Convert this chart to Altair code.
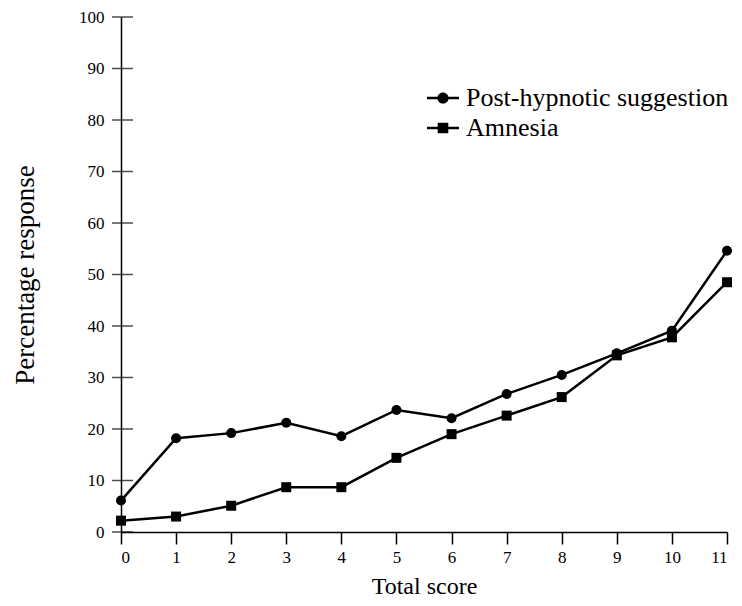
import altair as alt
import pandas as pd

# ---- data ----
scores = list(range(12))
post_hypnotic = [6.1, 18.2, 19.2, 21.2, 18.6, 23.7, 22.1, 26.8, 30.5, 34.7, 39.1, 54.6]
amnesia = [2.2, 3.0, 5.1, 8.7, 8.7, 14.4, 19.0, 22.6, 26.2, 34.3, 37.8, 48.5]
series_names = ["Post-hypnotic suggestion", "Amnesia"]
y_ticks = list(range(0, 101, 10))
x_ticks = list(range(0, 12))

df = pd.DataFrame({
    "score": scores + scores,
    "pct": post_hypnotic + amnesia,
    "series": [series_names[0]] * len(scores) + [series_names[1]] * len(scores),
})
ticks_df = pd.DataFrame({"pct": y_ticks})

FONT = "Liberation Serif"
W, H = 606, 515

x_scale = alt.Scale(domain=[0, 11], nice=False)
y_scale = alt.Scale(domain=[0, 100], nice=False)

x_axis = alt.Axis(
    values=x_ticks, title="Total score", grid=False,
    tickSize=12, tickWidth=1.5, tickColor="black",
    domainColor="black", domainWidth=1.5,
    labelFont=FONT, labelFontSize=17, labelColor="black", labelPadding=5,
    titleFont=FONT, titleFontSize=24, titleFontWeight="normal", titleColor="black",
    titleY=61, titleBaseline="alphabetic",
)
y_axis = alt.Axis(
    values=y_ticks, title="Percentage response", grid=False,
    ticks=False, tickSize=0,
    domainColor="black", domainWidth=1.5,
    labelFont=FONT, labelFontSize=17, labelColor="black", labelPadding=17,
    titleFont=FONT, titleFontSize=27, titleFontWeight="normal", titleColor="black",
    titleX=-96, titleY=H / 2, titleAngle=270, titleAlign="center", titleBaseline="middle",
)

x_enc = alt.X("score:Q", scale=x_scale, axis=x_axis)
y_enc = alt.Y("pct:Q", scale=y_scale, axis=y_axis)

lines = alt.Chart(df).mark_line(color="black", strokeWidth=2.5).encode(
    x=x_enc, y=y_enc, detail="series:N"
)

points = alt.Chart(df).mark_point(filled=True, color="black", opacity=1, size=100).encode(
    x=x_enc, y=y_enc,
    shape=alt.Shape("series:N", scale=alt.Scale(domain=series_names, range=["circle", "square"]), legend=None),
)

bar_parts = "M-1,-0.08L-0.3,-0.08L-0.3,0.08L-1,0.08Z M0.3,-0.08L1,-0.08L1,0.08L0.3,0.08Z "
path_circle = bar_parts + "M0.35,0A0.35,0.35,0,1,1,-0.35,0A0.35,0.35,0,1,1,0.35,0Z"
path_square = bar_parts + "M-0.33,-0.33L0.33,-0.33L0.33,0.33L-0.33,0.33Z"

legend_layer = alt.Chart(df).mark_point(filled=True, color="black", opacity=0).encode(
    x=x_enc, y=y_enc,
    shape=alt.Shape(
        "series:N",
        scale=alt.Scale(domain=series_names, range=[path_circle, path_square]),
        legend=alt.Legend(
            title=None, orient="none", legendX=305, legendY=64,
            symbolSize=1024, symbolOpacity=1, symbolFillColor="black",
            labelFont=FONT, labelFontSize=26, labelColor="black",
            labelOffset=6, rowPadding=0, padding=0, labelLimit=0,
        ),
    ),
)

tick_layer = alt.Chart(ticks_df).mark_tick(
    color="black", thickness=1.5, size=21, orient="horizontal"
).encode(y=y_enc, x=alt.value(1.5))

chart = (
    alt.layer(tick_layer, lines, points, legend_layer)
    .resolve_scale(shape="independent")
    .properties(
        width=W, height=H,
        autosize=alt.AutoSizeParams(type="none"),
        padding={"left": 113, "top": 9, "right": 7, "bottom": 66},
        background="white",
    )
    .configure_view(stroke=None)
)

chart.save("out.html", embed_options={"renderer": "svg", "actions": False})
